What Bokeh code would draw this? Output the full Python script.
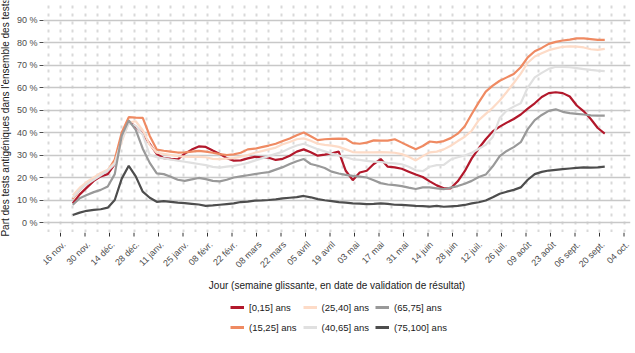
import math
import pandas as pd
from bokeh.plotting import figure
from bokeh.layouts import column, row
from bokeh.models import FixedTicker, Legend, LegendItem, Range1d, Label
from bokeh.core.properties import value
from bokeh.embed import file_html
from bokeh.resources import INLINE

# ---------------- data ----------------
jours = pd.date_range("2020-11-23", periods=77, freq="4D")

tranches = ["[0,15] ans", "(15,25] ans", "(25,40] ans", "(40,65] ans", "(65,75] ans", "(75,100] ans"]
couleurs = ["#B2182B", "#EF8A62", "#FDDBC7", "#E0E0E0", "#999999", "#4D4D4D"]

age_0_15 = [8.5, 12.5, 15.5, 18.5, 20.5, 21.5, 26, 38, 45, 42.5,
            39.5, 35, 30.5, 28.6, 28.3, 28.1, 30.6, 32.4, 33.8, 33.6,
            32, 30.5, 28.6, 27.5, 27.6, 28.5, 29.2, 29, 28.8, 27.8,
            28.3, 29.7, 31.5, 32.5, 31.2, 29.7, 30.2, 30.8, 31.5, 23,
            18.8, 22.2, 23, 26, 28.2, 24.8, 24.5, 23.9, 22.6, 21.3,
            20.2, 18.3, 16.5, 15.2, 15.2, 18.3, 22.8, 28.5, 33, 37,
            40.5, 42.6, 44.4, 46, 48, 50.6, 53, 55.8, 57.5, 57.9,
            57.5, 56, 52, 49.4, 46, 42, 39.5]
age_15_25 = [10.5, 14.5, 17.5, 19.5, 21.5, 23, 28, 40, 46.8, 46.6,
             46.5, 38.5, 32.4, 31.9, 31.5, 31.1, 31.2, 31.5, 31.8, 31.5,
             31, 30.4, 30, 30.3, 31, 32.5, 32.8, 33.5, 34.2, 35,
             36.2, 37.3, 38.8, 40, 38.3, 36.6, 37, 37.2, 37.3, 37.2,
             35.3, 35, 35.5, 36.5, 36.4, 36.4, 37, 35.5, 34, 32.6,
             34, 36, 35.6, 36.2, 37.5, 39.5, 42.8, 48.2, 53.4, 58.2,
             60.8, 63, 64.5, 66, 69, 73.4, 76.1, 77.6, 79.4, 80.3,
             80.9, 81.3, 81.8, 81.8, 81.5, 81.2, 81.2]
age_25_40 = [12, 15.5, 18, 20, 22, 23.5, 26.5, 36, 44.5, 45,
             41, 34.5, 31, 30.5, 30, 29.5, 29.3, 29.2, 29.2, 29,
             28.3, 28.2, 28.4, 28.6, 29.3, 30, 31, 31.7, 32.5, 33.3,
             34.8, 35.8, 37, 37.4, 36.3, 35, 34.5, 34.2, 33.6, 32.5,
             31.3, 31.2, 31.2, 31.2, 31.3, 31.2, 31, 30.4, 29.2, 27.6,
             29.5, 31.2, 31.5, 32.5, 34.1, 36.2, 38.1, 40.8, 45.5, 48.3,
             51, 54.2, 58, 62, 66.2, 71, 73.8, 75.2, 76.6, 77.4,
             78.1, 78.3, 78.2, 77.8, 77, 76.7, 77.2]
age_40_65 = [11, 14.5, 17, 19, 21, 23, 26, 37, 44, 43,
             39, 30, 29, 28.5, 28, 27.5, 27, 26.5, 26, 25.5,
             24.7, 24.4, 24.8, 25.2, 25.8, 26.5, 27.5, 28.5, 29.5, 30.5,
             31.5, 33, 34.2, 35, 33.8, 32.6, 31.6, 30.6, 29.8, 29,
             28.1, 27.8, 27.4, 27.1, 26.9, 26.5, 26.3, 25.9, 24.8, 23.2,
             22.8, 24.8, 25.5, 25.6, 28, 29, 29.8, 31, 32.8, 34.5,
             38, 46.5, 49.8, 51.5, 53, 60, 64.5, 66.5, 68.3, 69.2,
             69.2, 69, 68.6, 68.2, 67.8, 67.5, 67.3]
age_65_75 = [7.9, 10.8, 12.2, 13.5, 14.5, 16, 21.5, 38.6, 45.4, 41.2,
             32.8, 26.5, 21.8, 21.5, 20.3, 19, 18.5, 19.2, 19.8, 19.3,
             18.5, 18.3, 19, 20, 20.5, 21, 21.5, 22, 22.4, 23.5,
             24.6, 26, 27.2, 28.2, 26, 25.2, 24.2, 22.6, 21.8, 21.2,
             20.7, 20.4, 20, 18.8, 17.5, 16.9, 16.6, 16.2, 15.5, 14.9,
             15.6, 15.6, 15.2, 14.8, 15.5, 16.2, 17.2, 18.5, 20.2, 21.3,
             25, 29.5, 31.8, 33.5, 35.7, 41.5, 45.5, 47.8, 49.6, 50.3,
             49.2, 48.6, 48.3, 48, 47.6, 47.5, 47.5]
age_75_100 = [3.3, 4.4, 5.2, 5.6, 5.9, 6.6, 10, 19.5, 25.2, 20.5,
              13.7, 11, 9.2, 9.5, 9.2, 8.8, 8.6, 8.3, 8, 7.4,
              7.6, 7.9, 8.2, 8.5, 9.1, 9.3, 9.7, 9.8, 10, 10.3,
              10.7, 11, 11.3, 11.8, 11.2, 10.4, 9.9, 9.5, 9.1, 8.8,
              8.5, 8.4, 8.2, 8.3, 8.5, 8.3, 7.9, 7.8, 7.6, 7.4,
              7.3, 7.1, 7.4, 7, 7.2, 7.4, 7.8, 8.5, 9, 9.8,
              11.2, 12.8, 13.7, 14.5, 15.6, 19, 21.5, 22.5, 23.1, 23.4,
              23.7, 24, 24.3, 24.5, 24.4, 24.5, 24.8]
series = [age_0_15, age_15_25, age_25_40, age_40_65, age_65_75, age_75_100]

tick_dates = ["2020-11-16", "2020-11-30", "2020-12-14", "2020-12-28", "2021-01-11",
              "2021-01-25", "2021-02-08", "2021-02-22", "2021-03-08", "2021-03-22",
              "2021-04-05", "2021-04-19", "2021-05-03", "2021-05-17", "2021-05-31",
              "2021-06-14", "2021-06-28", "2021-07-12", "2021-07-26", "2021-08-09",
              "2021-08-23", "2021-09-06", "2021-09-20", "2021-10-04"]
tick_labels = ["16 nov.", "30 nov.", "14 déc.", "28 déc.", "11 janv.", "25 janv.",
               "08 févr.", "22 févr.", "08 mars", "22 mars", "05 avril", "19 avril",
               "03 mai", "17 mai", "31 mai", "14 juin", "28 juin", "12 juil.",
               "26 juil.", "09 août", "23 août", "06 sept.", "20 sept.", "04 oct."]
y_ticks = [0, 10, 20, 30, 40, 50, 60, 70, 80, 90]
y_labels = ["0 %", "10 %", "20 %", "30 %", "40 %", "50 %", "60 %", "70 %", "80 %", "90 %"]

x_title = "Jour (semaine glissante, en date de validation de résultat)"
y_title = "Part des tests antigéniques dans l'ensemble des tests"


def to_ms(d):
    return int(pd.Timestamp(d).value // 10**6)


DAY = 86400000
base = to_ms("2020-11-16")
PXD = 1.75          # pixels per day
X0 = 60             # page x of 16 nov.
FONT = "Liberation Sans"
tick_ms = [to_ms(d) for d in tick_dates]

x_range = Range1d(base + (43 - X0) / PXD * DAY, base + (630 - X0) / PXD * DAY)

# ---------------- main panel ----------------
p = figure(width=623, height=232, x_axis_location=None,
           output_backend="svg", toolbar_location=None,
           x_range=x_range, y_range=Range1d(-4.44, 97.78),
           min_border_left=31, min_border_right=5,
           min_border_top=2, min_border_bottom=0)
p.outline_line_color = None
p.background_fill_color = "white"
p.border_fill_color = "white"

renderers = []
for vals, col in zip(series, couleurs):
    r = p.line(jours, vals, line_color=col, line_width=2.2)
    renderers.append(r)

ya = p.yaxis[0]
ya.ticker = FixedTicker(ticks=y_ticks)
ya.major_label_overrides = {v: lab for v, lab in zip(y_ticks, y_labels)}
ya.axis_line_color = None
ya.major_tick_out = 4
ya.major_tick_in = 0
ya.major_tick_line_color = "#4d4d4d"
ya.minor_tick_line_color = None
ya.major_label_text_font = FONT
ya.major_label_text_font_size = "9px"
ya.major_label_text_color = "#4d4d4d"
ya.major_label_standoff = 2

p.ygrid.ticker = FixedTicker(ticks=y_ticks)
p.ygrid.grid_line_color = "#c8c8c8"
p.ygrid.grid_line_width = 1.3
week_ms = [to_ms(d) for d in pd.date_range("2020-11-09", "2021-10-04", freq="7D")]
p.xgrid.ticker = FixedTicker(ticks=week_ms)
p.xgrid.grid_line_color = "#d9d9d9"
p.xgrid.grid_line_width = 2
p.xgrid.grid_line_dash = "3 5"

# ---------------- bottom strip: ticks, tick labels, x title, legend ----------------
bs = figure(width=623, height=121, output_backend="svg", toolbar_location=None,
            x_axis_location=None, y_axis_location=None,
            x_range=x_range, y_range=Range1d(0, 121),
            min_border_left=31, min_border_right=5, min_border_top=0, min_border_bottom=0)
bs.outline_line_color = None
bs.xgrid.visible = False
bs.ygrid.visible = False
bs.segment(x0=tick_ms, x1=tick_ms, y0=121, y1=117, line_color="#333333", line_width=1)
bs.text(x=tick_ms, y=114, text=tick_labels, angle=math.pi / 4,
        text_align="right", text_baseline="top",
        text_font=value(FONT), text_font_size="9px", text_color="#4d4d4d")
bs.add_layout(Label(x=293.5, y=68, x_units="screen", y_units="screen", text=x_title,
                    text_align="center", text_baseline="middle",
                    text_font=FONT, text_font_size="10px", text_color="#1a1a1a"))

nan = float("nan")
leg_renderers = [bs.line(x=[tick_ms[0], tick_ms[1]], y=[nan, nan], line_color=c, line_width=3)
                 for c in couleurs]
legend = Legend(items=[LegendItem(label=t, renderers=[r]) for t, r in zip(tranches, leg_renderers)],
                orientation="vertical", ncols=3, location=(187, 19))
legend.label_text_font = FONT
legend.label_text_font_size = "9.5px"
legend.label_text_color = "#1a1a1a"
legend.glyph_width = 14
legend.glyph_height = 14
legend.label_standoff = 5
legend.spacing = 6
legend.padding = 0
legend.margin = 0
legend.border_line_color = None
legend.background_fill_alpha = 0
bs.add_layout(legend)

# ---------------- left strip: y title ----------------
ls = figure(width=12, height=353, output_backend="svg", toolbar_location=None,
            x_axis_location=None, y_axis_location=None,
            x_range=Range1d(0, 12), y_range=Range1d(0, 353),
            min_border_left=0, min_border_right=0, min_border_top=0, min_border_bottom=0)
ls.outline_line_color = None
ls.xgrid.visible = False
ls.ygrid.visible = False
ls.add_layout(Label(x=5, y=236, x_units="screen", y_units="screen", text=y_title,
                    angle=math.pi / 2, text_align="center", text_baseline="middle",
                    text_font=FONT, text_font_size="10px", text_color="#1a1a1a"))

layout = row(ls, column(p, bs, spacing=0), spacing=0)
open("out.html", "w").write(file_html(layout, INLINE))
